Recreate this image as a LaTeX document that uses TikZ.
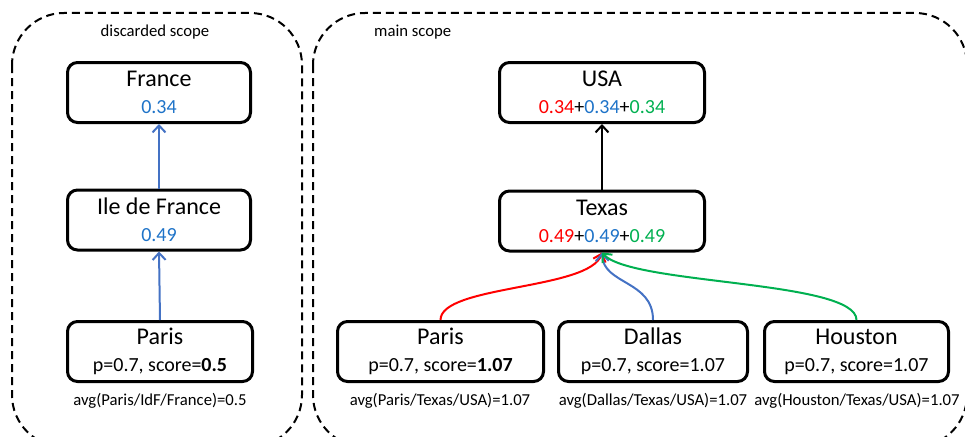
\documentclass[tikz,border=0pt]{standalone}
\usepackage{fontspec}
\setmainfont{Carlito}
\usetikzlibrary{arrows.meta}
\definecolor{vred}{RGB}{255,0,0}
\definecolor{vblue}{RGB}{30,115,200}
\definecolor{vgreen}{RGB}{0,176,80}
\definecolor{lblue}{RGB}{68,114,196}
\newcommand{\valtxt}[1]{{\fontsize{20}{27}\selectfont #1}}
\begin{document}
\begin{tikzpicture}[x=1pt,y=-1pt,
  box/.style={draw, line width=3pt, rounded corners=10pt, minimum width=184pt, minimum height=60pt, inner sep=0pt, align=center, font=\fontsize{24}{27}\selectfont},
  scopebox/.style={draw, line width=2pt, dash pattern=on 8pt off 5pt, rounded corners=52pt},
  link/.style={line width=2pt, -{Straight Barb[length=7pt,width=13pt,line width=2pt]}},
  small/.style={font=\fontsize{16.7}{18}\selectfont, inner sep=0pt}]
\useasboundingbox (0,0) rectangle (965,436);
\draw[scopebox] (12,13) rectangle (302,447);
\draw[scopebox] (313,13) rectangle (967,447);
\node[small] (dscope) at (155,32) {discarded scope};
\node[small, anchor=west] (mscope) at (374,32) {main scope};
% left scope
\node[box, minimum width=183pt] (fr) at (159,92.5) {France\\\valtxt{\color{vblue}0.34}};
\node[box, minimum width=183pt] (idf) at (159,220) {Ile de France\\\valtxt{\color{vblue}0.49}};
\node[box, minimum width=185pt] (pl) at (160,351.5) {Paris\\\valtxt{p=0.7, score=\textbf{0.5}}};
\node[small] (avgl) at (160,401) {avg(Paris/IdF/France)=0.5};
\draw[link, lblue] (pl.north) -- (idf.south);
\draw[link, lblue] (idf.north) -- (fr.south);
% main scope
\node[box, minimum width=205pt] (usa) at (602,92.5) {USA\\\valtxt{\textcolor{vred}{0.34}+\textcolor{vblue}{0.34}+\textcolor{vgreen}{0.34}}};
\node[box, minimum width=205pt] (tx) at (602,221) {Texas\\\valtxt{\textcolor{vred}{0.49}+\textcolor{vblue}{0.49}+\textcolor{vgreen}{0.49}}};
\node[box, minimum width=206pt] (pr) at (440.5,351.5) {Paris\\\valtxt{p=0.7, score=\textbf{1.07}}};
\node[box, minimum width=189pt] (da) at (653,351.5) {Dallas\\\valtxt{p=0.7, score=1.07}};
\node[box, minimum width=184pt] (ho) at (856.5,351.5) {Houston\\\valtxt{p=0.7, score=1.07}};
\node[small] (avgp) at (440,401) {avg(Paris/Texas/USA)=1.07};
\node[small] (avgd) at (653,401) {avg(Dallas/Texas/USA)=1.07};
\node[small] (avgh) at (857,401) {avg(Houston/Texas/USA)=1.07};
\draw[link, black] (tx.north) -- (usa.south);
\draw[link, vred] (pr.north) .. controls (440.5,285) and (590,290) .. (tx.south);
\draw[link, lblue] (da.north) .. controls (653,280) and (603,285) .. (tx.south);
\draw[link, vgreen] (ho.north) .. controls (856.5,280) and (630,285) .. (tx.south);
\end{tikzpicture}
\end{document}
